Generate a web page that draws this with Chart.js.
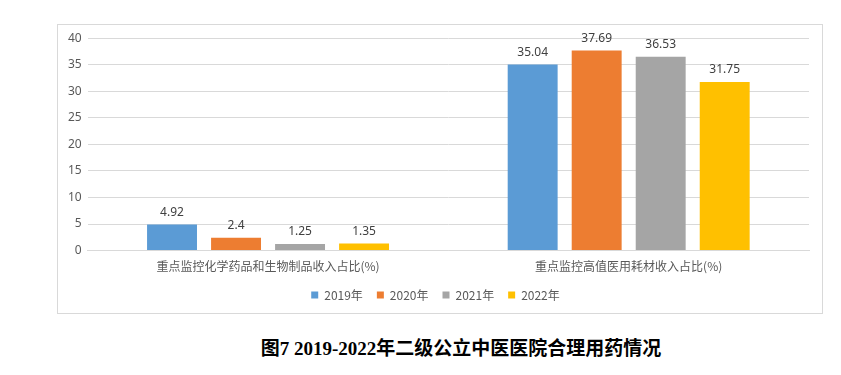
<!DOCTYPE html>
<html><head><meta charset="utf-8">
<script src="https://cdn.jsdelivr.net/npm/chart.js@4/dist/chart.umd.min.js"></script>
<style>
body{margin:0;background:#fff;width:841px;height:375px;position:relative;overflow:hidden;}
#box{position:absolute;left:57px;top:24px;width:764px;height:288px;border:1px solid #d9d9d9;}
#title{position:absolute;left:0;width:922px;top:333px;text-align:center;font-family:"Liberation Serif","Noto Sans CJK SC",serif;font-weight:bold;font-size:19px;color:#000;}
</style></head>
<body>
<div id="box"><canvas id="c" width="764" height="288"></canvas></div>
<div id="title">图7 2019-2022年二级公立中医医院合理用药情况</div>
<script>
const categories = ["重点监控化学药品和生物制品收入占比(%)", "重点监控高值医用耗材收入占比(%)"];
const seriesNames = ["2019年", "2020年", "2021年", "2022年"];
const v2019 = [4.92, 35.04];
const v2020 = [2.4, 37.69];
const v2021 = [1.25, 36.53];
const v2022 = [1.35, 31.75];
const yTicks = [0, 5, 10, 15, 20, 25, 30, 35, 40];
const colors = ["#5B9BD5", "#ED7D31", "#A5A5A5", "#FFC000"];
const values = [v2019, v2020, v2021, v2022];

const labelPlugin = {
  id: 'vals',
  afterDatasetsDraw(chart) {
    const ctx = chart.ctx;
    ctx.save();
    ctx.font = '12px "Noto Sans", "Open Sans", sans-serif';
    ctx.fillStyle = '#404040';
    ctx.textAlign = 'center';
    ctx.textBaseline = 'bottom';
    chart.data.datasets.forEach((ds, i) => {
      chart.getDatasetMeta(i).data.forEach((bar, j) => {
        ctx.fillText(String(ds.data[j]), bar.x, bar.y - 6);
      });
    });
    ctx.restore();
  }
};

new Chart(document.getElementById('c'), {
  type: 'bar',
  data: {
    labels: categories,
    datasets: seriesNames.map((n, i) => ({
      label: n, data: values[i], backgroundColor: colors[i],
      barPercentage: 0.78, categoryPercentage: 0.71
    }))
  },
  options: {
    responsive: false,
    animation: false,
    devicePixelRatio: 1,
    layout: { padding: { left: 4, right: 13, top: 9, bottom: 2 } },
    plugins: {
      legend: {
        position: 'bottom',
        labels: { boxWidth: 7, boxHeight: 7, padding: 14, color: '#595959',
          font: { size: 12, family: '"Noto Sans CJK SC", sans-serif' } }
      },
      tooltip: { enabled: false }
    },
    scales: {
      x: {
        grid: { display: false },
        border: { display: true, color: '#d9d9d9' },
        ticks: { color: '#595959', font: { size: 12, family: '"Noto Sans CJK SC", sans-serif' }, padding: 1 }
      },
      y: {
        min: 0, max: 40,
        afterBuildTicks(axis) { axis.ticks = yTicks.map(v => ({ value: v })); },
        grid: { color: '#d9d9d9', drawTicks: false },
        border: { display: false },
        ticks: { color: '#595959', font: { size: 12, family: '"Noto Sans", sans-serif' }, padding: 6 }
      }
    }
  },
  plugins: [labelPlugin]
});
</script>
</body></html>
